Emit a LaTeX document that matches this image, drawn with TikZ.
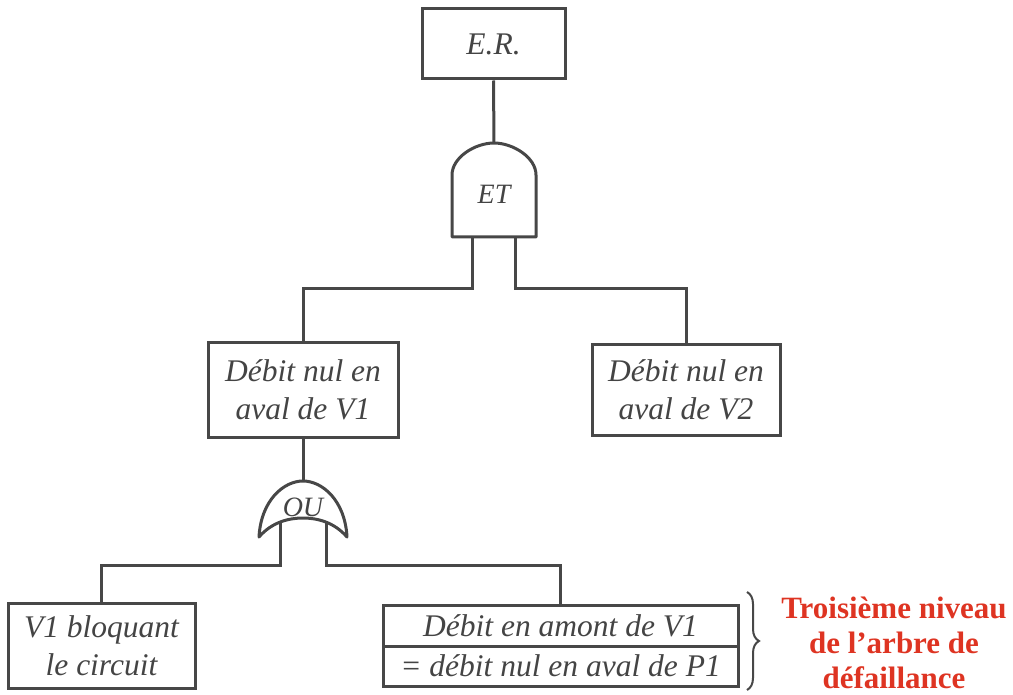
\documentclass[tikz,border=0pt]{standalone}
\usepackage{fontspec}
\setmainfont{Liberation Serif}
\usetikzlibrary{decorations.pathreplacing}
\definecolor{lvlred}{RGB}{222,52,34}
\definecolor{ink}{RGB}{68,68,68}
\begin{document}
\begin{tikzpicture}[x=1pt,y=-1pt,
  line/.style={draw=black!72,line width=3pt},
  box/.style={line, rectangle, inner sep=0pt, align=center, text=ink,
    font=\itshape\fontsize{31.5}{38}\selectfont},
  gate/.style={line, fill=white, line join=round},
  gatelabel/.style={text=ink, inner sep=0pt, font=\itshape\fontsize{28}{30}\selectfont},
  level/.style={text=lvlred, align=center, inner sep=0pt,
    font=\bfseries\fontsize{31}{35}\selectfont}]
\useasboundingbox (0,0) rectangle (1013,695);

% event boxes
\node[box, minimum width=143pt, minimum height=70pt] (er) at (493.5,44) {E.R.};
\node[box, minimum width=190pt, minimum height=94pt] (v1) at (303,390) {Débit nul en\\aval de V1};
\node[box, minimum width=188pt, minimum height=91pt] (v2) at (686,390) {Débit nul en\\aval de V2};
\node[box, minimum width=187pt, minimum height=85pt] (bloq) at (101.5,645.5) {V1 bloquant\\le circuit};
\node[box, minimum width=355pt, minimum height=41pt] (amont) at (560.5,625.5) {Débit en amont de V1};
\node[box, minimum width=355pt, minimum height=40pt] (aval) at (560.5,666) {= débit nul en aval de P1};

% AND gate
\draw[gate] (452,237) -- (452,175)
  .. controls (452,157.3) and (475.2,143) .. (494,143)
  .. controls (512.8,143) and (536,157.3) .. (536,175) -- (536,237) -- cycle;
\coordinate (andtop) at (494,143);
\coordinate (andL) at (472,237);
\coordinate (andR) at (515,237);
\node[gatelabel] (et) at (494,194) {ET};

% OR gate
\draw[gate] (259,537) .. controls (261,500) and (284,481) .. (303,481)
  .. controls (322,481) and (345,500) .. (347,537)
  .. controls (334,522) and (317,518) .. (303,518)
  .. controls (289,518) and (272,522) .. (259,537) -- cycle;
\coordinate (ortop) at (303,481);
\coordinate (orL) at (280,521);
\coordinate (orR) at (326,521);
\node[gatelabel] (ou) at (303,507) {OU};

% connectors
\draw[line] (er.south) -- (andtop);
\draw[line] (andL) -- ++(0,52) -| (v1.north);
\draw[line] (andR) -- ++(0,52) -| (v2.north);
\draw[line] (v1.south) -- (ortop);
\draw[line] (orL) -- ++(0,44) -| (bloq.north);
\draw[line] (orR) -- ++(0,44) -| (amont.north);

% level brace and caption
\coordinate (bt) at (747,592);
\coordinate (bb) at (747,690);
\draw[decorate, decoration={brace, amplitude=12pt}, draw=black!72, line width=2pt] (bt) -- (bb);
\node[level] (lvl) at (894,643) {Troisième niveau\\de l'arbre de\\défaillance};
\end{tikzpicture}
\end{document}
